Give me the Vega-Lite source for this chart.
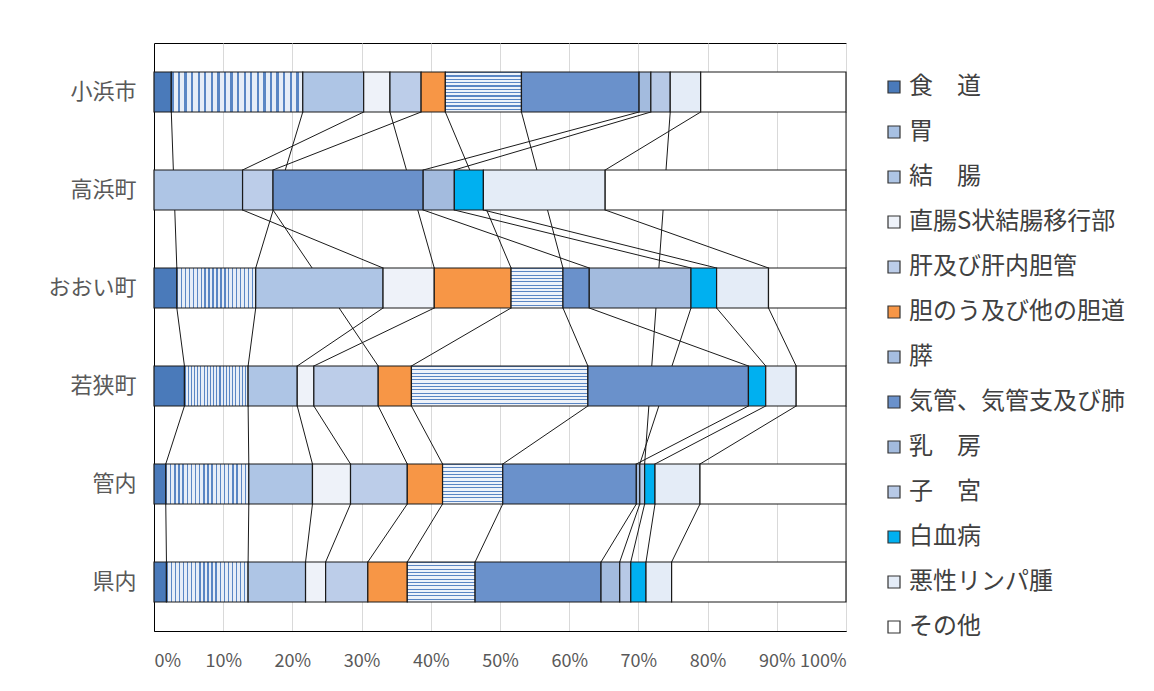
{
  "$schema": "https://vega.github.io/schema/vega-lite/v6.json",
  "width": 692,
  "height": 588,
  "autosize": {"type": "none"},
  "padding": {"left": 154, "top": 43, "right": 308, "bottom": 60},
  "background": "#ffffff",
  "config": {
    "view": {"stroke": "#000000", "strokeWidth": 1},
    "font": "Noto Sans CJK JP"
  },
  "data": {
    "values": [
      {"region": "小浜市", "category": "食　道", "value": 2.5},
      {"region": "小浜市", "category": "胃", "value": 19.0},
      {"region": "小浜市", "category": "結　腸", "value": 8.8},
      {"region": "小浜市", "category": "直腸S状結腸移行部", "value": 3.8},
      {"region": "小浜市", "category": "肝及び肝内胆管", "value": 4.5},
      {"region": "小浜市", "category": "胆のう及び他の胆道", "value": 3.5},
      {"region": "小浜市", "category": "膵", "value": 11.0},
      {"region": "小浜市", "category": "気管、気管支及び肺", "value": 17.0},
      {"region": "小浜市", "category": "乳　房", "value": 1.7},
      {"region": "小浜市", "category": "子　宮", "value": 2.8},
      {"region": "小浜市", "category": "悪性リンパ腫", "value": 4.4},
      {"region": "小浜市", "category": "その他", "value": 21.0},

      {"region": "高浜町", "category": "結　腸", "value": 12.8},
      {"region": "高浜町", "category": "肝及び肝内胆管", "value": 4.4},
      {"region": "高浜町", "category": "気管、気管支及び肺", "value": 21.7},
      {"region": "高浜町", "category": "乳　房", "value": 4.5},
      {"region": "高浜町", "category": "白血病", "value": 4.2},
      {"region": "高浜町", "category": "悪性リンパ腫", "value": 17.6},
      {"region": "高浜町", "category": "その他", "value": 34.8},

      {"region": "おおい町", "category": "食　道", "value": 3.3},
      {"region": "おおい町", "category": "胃", "value": 11.4},
      {"region": "おおい町", "category": "結　腸", "value": 18.4},
      {"region": "おおい町", "category": "直腸S状結腸移行部", "value": 7.4},
      {"region": "おおい町", "category": "胆のう及び他の胆道", "value": 11.1},
      {"region": "おおい町", "category": "膵", "value": 7.5},
      {"region": "おおい町", "category": "気管、気管支及び肺", "value": 3.8},
      {"region": "おおい町", "category": "乳　房", "value": 14.7},
      {"region": "おおい町", "category": "白血病", "value": 3.7},
      {"region": "おおい町", "category": "悪性リンパ腫", "value": 7.5},
      {"region": "おおい町", "category": "その他", "value": 11.2},

      {"region": "若狭町", "category": "食　道", "value": 4.4},
      {"region": "若狭町", "category": "胃", "value": 9.2},
      {"region": "若狭町", "category": "結　腸", "value": 7.1},
      {"region": "若狭町", "category": "直腸S状結腸移行部", "value": 2.4},
      {"region": "若狭町", "category": "肝及び肝内胆管", "value": 9.3},
      {"region": "若狭町", "category": "胆のう及び他の胆道", "value": 4.8},
      {"region": "若狭町", "category": "膵", "value": 25.5},
      {"region": "若狭町", "category": "気管、気管支及び肺", "value": 23.2},
      {"region": "若狭町", "category": "白血病", "value": 2.5},
      {"region": "若狭町", "category": "悪性リンパ腫", "value": 4.4},
      {"region": "若狭町", "category": "その他", "value": 7.2},

      {"region": "管内", "category": "食　道", "value": 1.7},
      {"region": "管内", "category": "胃", "value": 12.0},
      {"region": "管内", "category": "結　腸", "value": 9.2},
      {"region": "管内", "category": "直腸S状結腸移行部", "value": 5.5},
      {"region": "管内", "category": "肝及び肝内胆管", "value": 8.2},
      {"region": "管内", "category": "胆のう及び他の胆道", "value": 5.1},
      {"region": "管内", "category": "膵", "value": 8.7},
      {"region": "管内", "category": "気管、気管支及び肺", "value": 19.3},
      {"region": "管内", "category": "乳　房", "value": 0.5},
      {"region": "管内", "category": "子　宮", "value": 0.7},
      {"region": "管内", "category": "白血病", "value": 1.5},
      {"region": "管内", "category": "悪性リンパ腫", "value": 6.5},
      {"region": "管内", "category": "その他", "value": 21.1},

      {"region": "県内", "category": "食　道", "value": 1.8},
      {"region": "県内", "category": "胃", "value": 11.8},
      {"region": "県内", "category": "結　腸", "value": 8.3},
      {"region": "県内", "category": "直腸S状結腸移行部", "value": 2.9},
      {"region": "県内", "category": "肝及び肝内胆管", "value": 6.1},
      {"region": "県内", "category": "胆のう及び他の胆道", "value": 5.7},
      {"region": "県内", "category": "膵", "value": 9.8},
      {"region": "県内", "category": "気管、気管支及び肺", "value": 18.2},
      {"region": "県内", "category": "乳　房", "value": 2.7},
      {"region": "県内", "category": "子　宮", "value": 1.6},
      {"region": "県内", "category": "白血病", "value": 2.2},
      {"region": "県内", "category": "悪性リンパ腫", "value": 3.7},
      {"region": "県内", "category": "その他", "value": 25.2}
    ]
  },
  "transform": [
    {"calculate": "indexof(['食　道','胃','結　腸','直腸S状結腸移行部','肝及び肝内胆管','胆のう及び他の胆道','膵','気管、気管支及び肺','乳　房','子　宮','白血病','悪性リンパ腫','その他'], datum.category)", "as": "catIdx"},
    {"calculate": "indexof(['小浜市','高浜町','おおい町','若狭町','管内','県内'], datum.region)", "as": "regIdx"},
    {"stack": "value", "groupby": ["region"], "sort": [{"field": "catIdx", "order": "ascending"}], "as": ["x0", "x1"]}
  ],
  "layer": [
    {
      "transform": [
        {"window": [{"op": "lead", "field": "x1", "as": "nx"}, {"op": "lead", "field": "region", "as": "nregion"}], "groupby": ["category"], "sort": [{"field": "regIdx", "order": "ascending"}]},
        {"filter": "datum.nregion != null"}
      ],
      "mark": {"type": "rule", "color": "#1a1a1a", "strokeWidth": 1, "yOffset": 20, "y2Offset": -20},
      "encoding": {
        "x": {"field": "x1", "type": "quantitative", "scale": {"domain": [0, 100]}, "title": null},
        "x2": {"field": "nx"},
        "y": {"field": "region", "type": "nominal", "scale": {"domain": ["小浜市","高浜町","おおい町","若狭町","管内","県内"], "paddingInner": 0, "paddingOuter": 0}, "title": null},
        "y2": {"field": "nregion"}
      }
    },
    {
      "mark": {"type": "bar", "height": 40, "stroke": "#1a1a1a", "strokeWidth": 1.2},
      "encoding": {
        "x": {
          "field": "x0", "type": "quantitative", "scale": {"domain": [0, 100]}, "title": null,
          "axis": {"title": null, "values": [0,10,20,30,40,50,60,70,80,90,100], "labelExpr": "datum.value + '%'", "grid": true, "gridColor": "#d9d9d9", "gridWidth": 1, "domainColor": "#000000", "ticks": false, "labelFontSize": 18, "labelColor": "#595959", "labelPadding": 21, "labelFont": "Noto Sans CJK JP", "labelOverlap": false}
        },
        "x2": {"field": "x1"},
        "y": {
          "field": "region", "type": "nominal", "title": null,
          "scale": {"domain": ["小浜市","高浜町","おおい町","若狭町","管内","県内"], "paddingInner": 0, "paddingOuter": 0},
          "axis": {"title": null, "ticks": false, "domainColor": "#000000", "labelFontSize": 22, "labelColor": "#595959", "labelPadding": 18, "labelFont": "Noto Sans CJK JP"}
        },
        "fill": {
          "condition": [
            {"test": "datum.category === '膵'", "value": {"gradient": "linear", "x1": 0, "y1": 0, "x2": 0, "y2": 1, "stops": [
              {"offset": 0, "color": "#5a86c4"}, {"offset": 0.0292, "color": "#5a86c4"}, {"offset": 0.0292, "color": "#eef3fa"}, {"offset": 0.0833, "color": "#eef3fa"},
              {"offset": 0.0833, "color": "#5a86c4"}, {"offset": 0.1125, "color": "#5a86c4"}, {"offset": 0.1125, "color": "#eef3fa"}, {"offset": 0.1667, "color": "#eef3fa"},
              {"offset": 0.1667, "color": "#5a86c4"}, {"offset": 0.1958, "color": "#5a86c4"}, {"offset": 0.1958, "color": "#eef3fa"}, {"offset": 0.25, "color": "#eef3fa"},
              {"offset": 0.25, "color": "#5a86c4"}, {"offset": 0.2792, "color": "#5a86c4"}, {"offset": 0.2792, "color": "#eef3fa"}, {"offset": 0.3333, "color": "#eef3fa"},
              {"offset": 0.3333, "color": "#5a86c4"}, {"offset": 0.3625, "color": "#5a86c4"}, {"offset": 0.3625, "color": "#eef3fa"}, {"offset": 0.4167, "color": "#eef3fa"},
              {"offset": 0.4167, "color": "#5a86c4"}, {"offset": 0.4458, "color": "#5a86c4"}, {"offset": 0.4458, "color": "#eef3fa"}, {"offset": 0.5, "color": "#eef3fa"},
              {"offset": 0.5, "color": "#5a86c4"}, {"offset": 0.5292, "color": "#5a86c4"}, {"offset": 0.5292, "color": "#eef3fa"}, {"offset": 0.5833, "color": "#eef3fa"},
              {"offset": 0.5833, "color": "#5a86c4"}, {"offset": 0.6125, "color": "#5a86c4"}, {"offset": 0.6125, "color": "#eef3fa"}, {"offset": 0.6667, "color": "#eef3fa"},
              {"offset": 0.6667, "color": "#5a86c4"}, {"offset": 0.6958, "color": "#5a86c4"}, {"offset": 0.6958, "color": "#eef3fa"}, {"offset": 0.75, "color": "#eef3fa"},
              {"offset": 0.75, "color": "#5a86c4"}, {"offset": 0.7792, "color": "#5a86c4"}, {"offset": 0.7792, "color": "#eef3fa"}, {"offset": 0.8333, "color": "#eef3fa"},
              {"offset": 0.8333, "color": "#5a86c4"}, {"offset": 0.8625, "color": "#5a86c4"}, {"offset": 0.8625, "color": "#eef3fa"}, {"offset": 0.9167, "color": "#eef3fa"},
              {"offset": 0.9167, "color": "#5a86c4"}, {"offset": 0.9458, "color": "#5a86c4"}, {"offset": 0.9458, "color": "#eef3fa"}, {"offset": 1, "color": "#eef3fa"}
            ]}},
            {"test": "datum.category === '胃'", "value": {"gradient": "linear", "x1": 0, "y1": 0, "x2": 1, "y2": 0, "stops": [
              {"offset": 0, "color": "#5a86c4"}, {"offset": 0.0175, "color": "#5a86c4"}, {"offset": 0.0175, "color": "#e6edf7"}, {"offset": 0.05, "color": "#e6edf7"},
              {"offset": 0.05, "color": "#5a86c4"}, {"offset": 0.0675, "color": "#5a86c4"}, {"offset": 0.0675, "color": "#e6edf7"}, {"offset": 0.1, "color": "#e6edf7"},
              {"offset": 0.1, "color": "#5a86c4"}, {"offset": 0.1175, "color": "#5a86c4"}, {"offset": 0.1175, "color": "#e6edf7"}, {"offset": 0.15, "color": "#e6edf7"},
              {"offset": 0.15, "color": "#5a86c4"}, {"offset": 0.1675, "color": "#5a86c4"}, {"offset": 0.1675, "color": "#e6edf7"}, {"offset": 0.2, "color": "#e6edf7"},
              {"offset": 0.2, "color": "#5a86c4"}, {"offset": 0.2175, "color": "#5a86c4"}, {"offset": 0.2175, "color": "#e6edf7"}, {"offset": 0.25, "color": "#e6edf7"},
              {"offset": 0.25, "color": "#5a86c4"}, {"offset": 0.2675, "color": "#5a86c4"}, {"offset": 0.2675, "color": "#e6edf7"}, {"offset": 0.3, "color": "#e6edf7"},
              {"offset": 0.3, "color": "#5a86c4"}, {"offset": 0.3175, "color": "#5a86c4"}, {"offset": 0.3175, "color": "#e6edf7"}, {"offset": 0.35, "color": "#e6edf7"},
              {"offset": 0.35, "color": "#5a86c4"}, {"offset": 0.3675, "color": "#5a86c4"}, {"offset": 0.3675, "color": "#e6edf7"}, {"offset": 0.4, "color": "#e6edf7"},
              {"offset": 0.4, "color": "#5a86c4"}, {"offset": 0.4175, "color": "#5a86c4"}, {"offset": 0.4175, "color": "#e6edf7"}, {"offset": 0.45, "color": "#e6edf7"},
              {"offset": 0.45, "color": "#5a86c4"}, {"offset": 0.4675, "color": "#5a86c4"}, {"offset": 0.4675, "color": "#e6edf7"}, {"offset": 0.5, "color": "#e6edf7"},
              {"offset": 0.5, "color": "#5a86c4"}, {"offset": 0.5175, "color": "#5a86c4"}, {"offset": 0.5175, "color": "#e6edf7"}, {"offset": 0.55, "color": "#e6edf7"},
              {"offset": 0.55, "color": "#5a86c4"}, {"offset": 0.5675, "color": "#5a86c4"}, {"offset": 0.5675, "color": "#e6edf7"}, {"offset": 0.6, "color": "#e6edf7"},
              {"offset": 0.6, "color": "#5a86c4"}, {"offset": 0.6175, "color": "#5a86c4"}, {"offset": 0.6175, "color": "#e6edf7"}, {"offset": 0.65, "color": "#e6edf7"},
              {"offset": 0.65, "color": "#5a86c4"}, {"offset": 0.6675, "color": "#5a86c4"}, {"offset": 0.6675, "color": "#e6edf7"}, {"offset": 0.7, "color": "#e6edf7"},
              {"offset": 0.7, "color": "#5a86c4"}, {"offset": 0.7175, "color": "#5a86c4"}, {"offset": 0.7175, "color": "#e6edf7"}, {"offset": 0.75, "color": "#e6edf7"},
              {"offset": 0.75, "color": "#5a86c4"}, {"offset": 0.7675, "color": "#5a86c4"}, {"offset": 0.7675, "color": "#e6edf7"}, {"offset": 0.8, "color": "#e6edf7"},
              {"offset": 0.8, "color": "#5a86c4"}, {"offset": 0.8175, "color": "#5a86c4"}, {"offset": 0.8175, "color": "#e6edf7"}, {"offset": 0.85, "color": "#e6edf7"},
              {"offset": 0.85, "color": "#5a86c4"}, {"offset": 0.8675, "color": "#5a86c4"}, {"offset": 0.8675, "color": "#e6edf7"}, {"offset": 0.9, "color": "#e6edf7"},
              {"offset": 0.9, "color": "#5a86c4"}, {"offset": 0.9175, "color": "#5a86c4"}, {"offset": 0.9175, "color": "#e6edf7"}, {"offset": 0.95, "color": "#e6edf7"},
              {"offset": 0.95, "color": "#5a86c4"}, {"offset": 0.9675, "color": "#5a86c4"}, {"offset": 0.9675, "color": "#e6edf7"}, {"offset": 1, "color": "#e6edf7"}
            ]}}
          ],
          "field": "category", "type": "nominal",
          "scale": {
            "domain": ["食　道","胃","結　腸","直腸S状結腸移行部","肝及び肝内胆管","胆のう及び他の胆道","膵","気管、気管支及び肺","乳　房","子　宮","白血病","悪性リンパ腫","その他"],
            "range": ["#4a7aba","#a7c0e2","#aec5e5","#eef2f9","#bccde9","#f79646","#a6bee1","#6a91cb","#a3bbde","#b7c9e6","#00b0f0","#e4ecf7","#ffffff"]
          },
          "legend": {
            "title": null, "orient": "none", "legendX": 728, "legendY": 32,
            "symbolType": "square", "symbolSize": 144, "symbolStrokeColor": "#333333", "symbolStrokeWidth": 1.2,
            "labelFontSize": 24, "labelColor": "#404040", "labelFont": "Noto Sans CJK JP", "labelLimit": 400,
            "rowPadding": 21, "labelOffset": 3
          }
        }
      }
    }
  ]
}
